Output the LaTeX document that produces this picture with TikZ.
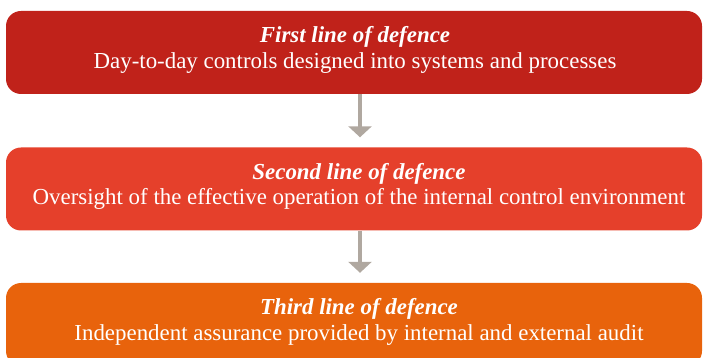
\documentclass[tikz,border=0pt]{standalone}
\usepackage{fontspec}
\setmainfont{Liberation Serif}
\usetikzlibrary{arrows.meta}
\definecolor{boxA}{HTML}{C0221A}
\definecolor{boxB}{HTML}{E5402B}
\definecolor{boxC}{HTML}{E8630C}
\definecolor{arrowgrey}{HTML}{B0A8A0}
\tikzset{
  linebox/.style={rounded corners=15pt, minimum width=696pt, minimum height=83pt, inner sep=0pt},
  linetext/.style={text=white, align=center, inner sep=0pt, font=\fontsize{22.9}{25.5}\selectfont},
  flow/.style={draw=arrowgrey, line width=4pt, -{Triangle[width=23pt,length=11pt]}, shorten >=10pt}
}
\begin{document}
\begin{tikzpicture}[x=1pt,y=1pt]
\useasboundingbox (0,0) rectangle (703,358);
\clip (0,0) rectangle (703,358);
\node[linebox, fill=boxA] (b1) at (354,305.5) {};
\node[linebox, fill=boxB] (b2) at (354,169) {};
\node[linebox, fill=boxC] (b3) at (354,33.5) {};
\node[linetext] (t1) at ([xshift=1pt,yshift=2.5pt]b1.center) {\textbf{\textit{First line of defence}}\\Day-to-day controls designed into systems and processes};
\node[linetext] (t2) at ([xshift=5pt,yshift=2.5pt]b2.center) {\textbf{\textit{Second line of defence}}\\Oversight of the effective operation of the internal control environment};
\node[linetext] (t3) at ([xshift=5pt,yshift=2.5pt]b3.center) {\textbf{\textit{Third line of defence}}\\Independent assurance provided by internal and external audit};
\draw[flow] ([xshift=6pt]b1.south) -- ([xshift=6pt]b2.north);
\draw[flow] ([xshift=6pt]b2.south) -- ([xshift=6pt]b3.north);
\end{tikzpicture}
\end{document}
